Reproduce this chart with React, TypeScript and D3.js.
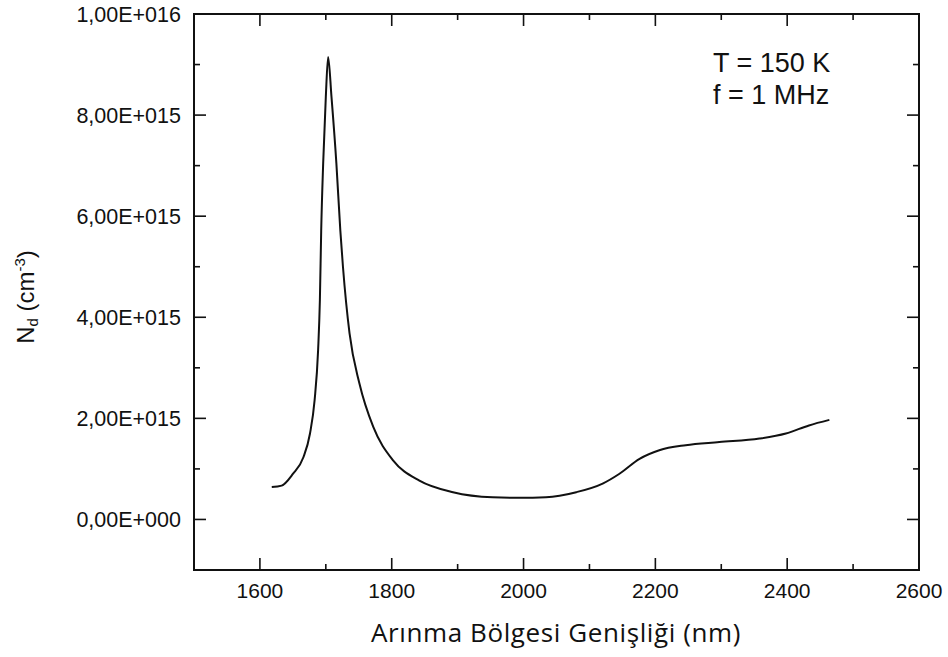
import React, { useEffect, useRef } from "react";
import * as d3 from "d3";

// depletion width (nm) and N_d (in units of 1e15 cm^-3)
const widthNm = [
  1618, 1633, 1650, 1666, 1676, 1683, 1688.3, 1691, 1693, 1696, 1700, 1703.5,
  1708.6, 1716, 1722, 1726, 1736, 1751, 1772, 1802, 1842, 1893, 1953, 1994,
  2034, 2080, 2120, 2145, 2176, 2206, 2246, 2297, 2358, 2398, 2433, 2464,
];
const ndValues = [
  0.64, 0.67, 0.9, 1.23, 1.7, 2.36, 3.35, 4.34, 5.72, 7.05, 8.36, 9.15,
  8.36, 7.05, 5.72, 5.0, 3.68, 2.69, 1.83, 1.17, 0.77, 0.54, 0.44, 0.43,
  0.44, 0.54, 0.71, 0.9, 1.2, 1.37, 1.47, 1.53, 1.6, 1.7, 1.86, 1.97,
];

const xMajorTicks = [1600, 1800, 2000, 2200, 2400, 2600];
const xMinorTicks = [1500, 1700, 1900, 2100, 2300, 2500];
const yMajorTicks = [0, 2, 4, 6, 8, 10];
const yMinorTicks = [-1, 1, 3, 5, 7, 9];
const yTickLabels = [
  "0,00E+000",
  "2,00E+015",
  "4,00E+015",
  "6,00E+015",
  "8,00E+015",
  "1,00E+016",
];
const annotation = ["T = 150 K", "f = 1 MHz"];

function App() {
  const ref = useRef<SVGSVGElement>(null);
  const width = 948;
  const height = 657;
  const margin = { top: 14, right: 29, bottom: 87, left: 194 };

  useEffect(() => {
    document.body.style.margin = "0";
    drawChart();
  }, []);

  function drawChart() {
    const svg = d3.select(ref.current);
    svg.selectAll("*").remove();

    const x = d3
      .scaleLinear()
      .domain([1500, 2600])
      .range([margin.left, width - margin.right]);
    const y = d3
      .scaleLinear()
      .domain([-1, 10])
      .range([height - margin.bottom, margin.top]);

    const left = margin.left;
    const right = width - margin.right;
    const top = margin.top;
    const bottom = height - margin.bottom;
    const ink = "#111";
    const font = "'Liberation Sans', Arial, sans-serif";

    // frame
    svg
      .append("rect")
      .attr("x", left)
      .attr("y", top)
      .attr("width", right - left)
      .attr("height", bottom - top)
      .attr("fill", "none")
      .attr("stroke", ink)
      .attr("stroke-width", 2);

    const ticks = svg.append("g").attr("stroke", ink).attr("stroke-width", 1.6);
    const addX = (vals: number[], len: number) => {
      vals.forEach((v) => {
        ticks.append("line").attr("x1", x(v)).attr("x2", x(v)).attr("y1", bottom).attr("y2", bottom - len);
        ticks.append("line").attr("x1", x(v)).attr("x2", x(v)).attr("y1", top).attr("y2", top + len);
      });
    };
    const addY = (vals: number[], len: number) => {
      vals.forEach((v) => {
        ticks.append("line").attr("x1", left).attr("x2", left + len).attr("y1", y(v)).attr("y2", y(v));
        ticks.append("line").attr("x1", right).attr("x2", right - len).attr("y1", y(v)).attr("y2", y(v));
      });
    };
    addX(xMajorTicks, 12);
    addX(xMinorTicks, 6);
    addY(yMajorTicks, 12);
    addY(yMinorTicks, 6);

    // tick labels
    svg
      .append("g")
      .selectAll("text")
      .data(xMajorTicks)
      .enter()
      .append("text")
      .attr("x", (d) => x(d))
      .attr("y", bottom + 28)
      .attr("text-anchor", "middle")
      .style("font-family", font)
      .style("font-size", "21px")
      .style("fill", ink)
      .text((d) => d);

    svg
      .append("g")
      .selectAll("text")
      .data(yMajorTicks)
      .enter()
      .append("text")
      .attr("x", left - 13)
      .attr("y", (d) => y(d) + 7.5)
      .attr("text-anchor", "end")
      .style("font-family", font)
      .style("font-size", "21.5px")
      .style("fill", ink)
      .text((d, i) => yTickLabels[i]);

    // axis titles
    svg
      .append("text")
      .attr("x", 556)
      .attr("y", 642)
      .attr("text-anchor", "middle")
      .style("font-family", "'Open Sans', sans-serif")
      .style("font-size", "26px")
      .style("letter-spacing", "0.6px")
      .style("fill", ink)
      .text("Arınma Bölgesi Genişliği (nm)");

    const yt = svg
      .append("text")
      .attr("transform", `translate(34, 297) rotate(-90)`)
      .attr("text-anchor", "middle")
      .style("font-family", font)
      .style("font-size", "24px")
      .style("fill", ink);
    yt.append("tspan").text("N");
    yt.append("tspan").attr("dy", 4).style("font-size", "15px").text("d");
    yt.append("tspan").attr("dy", -4).text(" (cm");
    yt.append("tspan").attr("dy", -9).style("font-size", "15px").text("-3");
    yt.append("tspan").attr("dy", 9).text(")");

    // annotation
    svg
      .append("g")
      .selectAll("text")
      .data(annotation)
      .enter()
      .append("text")
      .attr("x", 713)
      .attr("y", (d, i) => 72 + i * 32)
      .style("font-family", font)
      .style("font-size", "27px")
      .style("fill", ink)
      .text((d) => d);

    // curve
    const points = widthNm.map((w, i) => [w, ndValues[i]] as [number, number]);
    const line = d3
      .line<[number, number]>()
      .x((d) => x(d[0]))
      .y((d) => y(d[1]))
      .curve(d3.curveMonotoneX);
    svg
      .append("path")
      .attr("d", line(points))
      .attr("fill", "none")
      .attr("stroke", ink)
      .attr("stroke-width", 2)
      .attr("stroke-linejoin", "round");
  }

  return (
    <svg
      ref={ref}
      width={width}
      height={height}
      style={{ display: "block", background: "#fff" }}
    ></svg>
  );
}

export default App;
